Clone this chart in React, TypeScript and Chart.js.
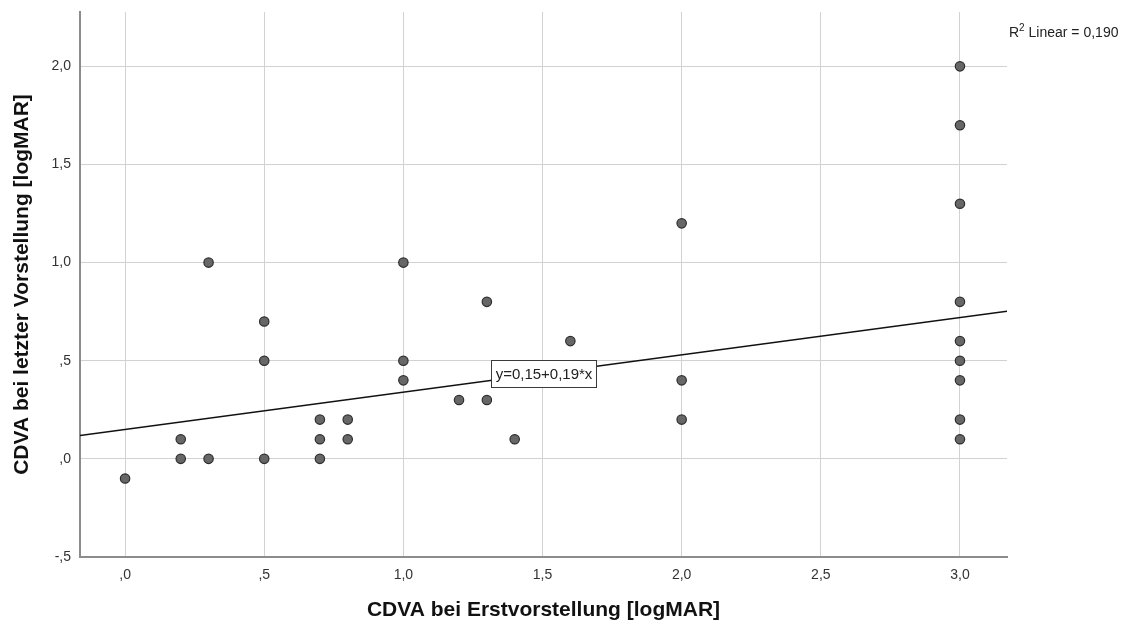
import React, { useEffect, useRef } from "react";
import { Chart, registerables } from "chart.js";

Chart.register(...registerables);

const xValues = [0, 0.2, 0.2, 0.3, 0.3, 0.5, 0.5, 0.5, 0.7, 0.7, 0.7, 0.8, 0.8, 1.0, 1.0, 1.0, 1.2, 1.3, 1.3, 1.4, 1.6, 2.0, 2.0, 2.0, 3.0, 3.0, 3.0, 3.0, 3.0, 3.0, 3.0, 3.0, 3.0];
const yValues = [-0.1, 0, 0.1, 0, 1.0, 0, 0.5, 0.7, 0, 0.1, 0.2, 0.1, 0.2, 0.4, 0.5, 1.0, 0.3, 0.3, 0.8, 0.1, 0.6, 0.2, 0.4, 1.2, 0.1, 0.2, 0.4, 0.5, 0.6, 0.8, 1.3, 1.7, 2.0];
const xTicks = [0, 0.5, 1.0, 1.5, 2.0, 2.5, 3.0];
const yTicks = [-0.5, 0, 0.5, 1.0, 1.5, 2.0];
const xRange = [-0.162, 3.169];
const yRange = [-0.5, 2.277];
const fitIntercept = 0.15;
const fitSlope = 0.19;
const fitLabel = "y=0,15+0,19*x";
const fitLabelX = 1.505;
const r2Text = " Linear = 0,190";

const fmt = (v: number) => {
  const s = Math.abs(v).toFixed(1).replace(".", ",");
  const t = s.startsWith("0,") ? s.slice(1) : s;
  return (v < 0 ? "-" : "") + t;
};

const FONT = "Arial, 'Liberation Sans', sans-serif";

const annotPlugin = {
  id: "annot",
  afterDatasetsDraw(chart: any) {
    const { ctx, scales } = chart;
    const xs = scales.x, ys = scales.y;
    const px = xs.getPixelForValue(fitLabelX);
    const py = ys.getPixelForValue(fitIntercept + fitSlope * fitLabelX);
    ctx.save();
    ctx.font = `15px ${FONT}`;
    const w = Math.round(ctx.measureText(fitLabel).width + 8);
    const h = 27;
    const bx = Math.round(px - w / 2) + 0.5;
    const by = Math.round(py - h / 2) + 0.5;
    ctx.fillStyle = "#ffffff";
    ctx.fillRect(bx, by, w, h);
    ctx.strokeStyle = "#3a3a3a";
    ctx.lineWidth = 1;
    ctx.strokeRect(bx, by, w, h);
    ctx.fillStyle = "#222";
    ctx.textBaseline = "middle";
    ctx.textAlign = "center";
    ctx.fillText(fitLabel, bx + w / 2, by + h / 2 + 1);
    ctx.textAlign = "left";
    ctx.textBaseline = "alphabetic";
    ctx.font = `14px ${FONT}`;
    let x = 1009;
    const base = 37;
    ctx.fillText("R", x, base);
    x += ctx.measureText("R").width;
    ctx.font = `10px ${FONT}`;
    ctx.fillText("2", x, base - 6);
    x += ctx.measureText("2").width;
    ctx.font = `14px ${FONT}`;
    ctx.fillText(r2Text, x, base);
    ctx.restore();
  },
};

export default function App() {
  const ref = useRef<HTMLCanvasElement>(null);
  useEffect(() => {
    document.body.style.margin = "0";
    const fitData = xRange.map((x) => ({ x, y: fitIntercept + fitSlope * x }));
    const chart = new Chart(ref.current!, {
      type: "scatter",
      data: {
        datasets: [
          {
            type: "line",
            data: fitData,
            borderColor: "#111",
            borderWidth: 1.4,
            pointRadius: 0,
            fill: false,
          } as any,
          {
            data: xValues.map((x, i) => ({ x, y: yValues[i] })),
            backgroundColor: "#676767",
            borderColor: "#2e2e2e",
            borderWidth: 1.2,
            pointRadius: 4.7,
          },
        ],
      },
      options: {
        animation: false,
        responsive: false,
        devicePixelRatio: 1,
        layout: { padding: { left: 0, right: 122, top: 12, bottom: 0 } },
        plugins: { legend: { display: false }, tooltip: { enabled: false } },
        scales: {
          x: {
            type: "linear",
            min: xRange[0],
            max: xRange[1],
            afterBuildTicks: (s: any) => {
              s.ticks = xTicks.map((v) => ({ value: v }));
            },
            afterFit: (s: any) => {
              s.height = 68;
            },
            grid: { color: "#d2d2d2", lineWidth: 1, drawTicks: false },
            border: { color: "#8c8c8c", width: 2 },
            ticks: {
              callback: (v: any) => fmt(Number(v)),
              color: "#333",
              font: { family: FONT, size: 14 },
              padding: 10,
              maxRotation: 0,
            },
            title: {
              display: true,
              text: "CDVA bei Erstvorstellung [logMAR]",
              color: "#111",
              font: { family: FONT, size: 21, weight: "bold" },
              padding: { top: 0, bottom: 2 },
            },
          },
          y: {
            type: "linear",
            min: yRange[0],
            max: yRange[1],
            afterBuildTicks: (s: any) => {
              s.ticks = yTicks.map((v) => ({ value: v }));
            },
            afterFit: (s: any) => {
              s.width = 80;
              s.paddingTop = 0;
              s.paddingBottom = 0;
            },
            grid: { color: "#d2d2d2", lineWidth: 1, drawTicks: false },
            border: { color: "#8c8c8c", width: 2 },
            ticks: {
              callback: (v: any) => fmt(Number(v)),
              color: "#333",
              font: { family: FONT, size: 14 },
              padding: 9,
            },
            title: {
              display: true,
              text: "CDVA bei letzter Vorstellung [logMAR]",
              color: "#111",
              font: { family: FONT, size: 21, weight: "bold" },
              padding: { top: 10, bottom: 0 },
            },
          },
        },
      },
      plugins: [annotPlugin],
    });
    return () => chart.destroy();
  }, []);
  return (
    <div style={{ position: "fixed", left: 0, top: 0, width: 1129, height: 625, background: "#fff" }}>
      <canvas ref={ref} width={1129} height={625} style={{ width: 1129, height: 625 }} />
    </div>
  );
}
